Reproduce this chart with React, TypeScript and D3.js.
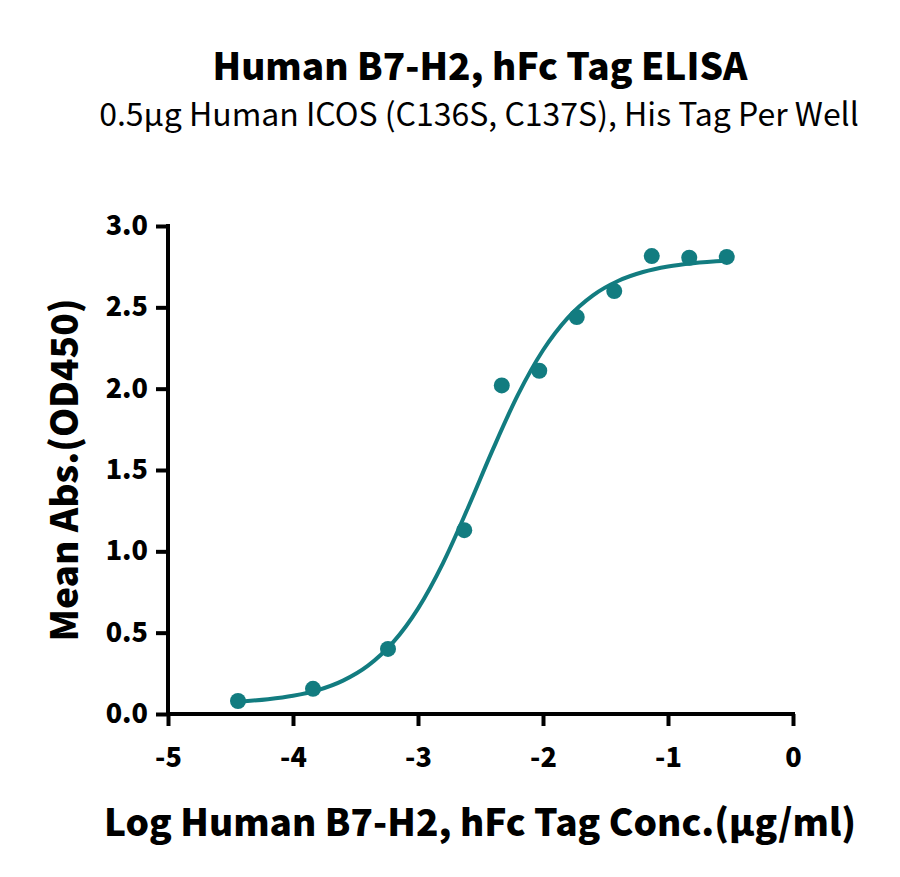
import { useEffect, useRef } from "react";
import * as d3 from "d3";

// measured points (log conc, OD450)
const logConc = [-4.44, -3.84, -3.24, -2.63, -2.33, -2.03, -1.73, -1.43, -1.13, -0.83, -0.53];
const meanAbs = [0.08, 0.155, 0.40, 1.13, 2.02, 2.11, 2.44, 2.60, 2.815, 2.805, 2.81];

// fitted curve
const fitX = [-4.44, -4.2, -4.0, -3.8, -3.6, -3.4, -3.2, -3.0, -2.8, -2.6, -2.4, -2.2, -2.0, -1.8, -1.6, -1.4, -1.2, -1.0, -0.8, -0.53];
const fitY = [0.076, 0.091, 0.112, 0.147, 0.205, 0.297, 0.44, 0.648, 0.928, 1.268, 1.628, 1.963, 2.236, 2.437, 2.574, 2.662, 2.717, 2.751, 2.771, 2.786];

const xTicks = [-5, -4, -3, -2, -1, 0];
const yTicks = [0, 0.5, 1.0, 1.5, 2.0, 2.5, 3.0];

const title = "Human B7-H2, hFc Tag ELISA";
const subtitle = "0.5μg Human ICOS (C136S, C137S), His Tag Per Well";
const xTitle = "Log Human B7-H2, hFc Tag Conc.(μg/ml)";
const yTitle = "Mean Abs.(OD450)";

const W = 900;
const H = 877;
const M = { left: 168, right: 107, top: 226, bottom: 163 };
const color = "#127c80";
const font = "'Noto Sans CJK SC', 'Noto Sans', sans-serif";

const App = () => {
  const ref = useRef<SVGSVGElement>(null);

  useEffect(() => {
    const svg = d3.select(ref.current);
    svg.selectAll("*").remove();

    const x = d3.scaleLinear().domain([-5, 0]).range([M.left, W - M.right]);
    const y = d3.scaleLinear().domain([0, 3]).range([H - M.bottom, M.top]);

    svg
      .append("text")
      .attr("x", 480)
      .attr("y", 80)
      .attr("text-anchor", "middle")
      .attr("font-family", font)
      .attr("font-weight", 900)
      .attr("font-size", 37)
      .text(title);

    svg
      .append("text")
      .attr("x", 479)
      .attr("y", 126)
      .attr("text-anchor", "middle")
      .attr("font-family", font)
      .attr("font-size", 32)
      .text(subtitle);

    const xAxis = svg
      .append("g")
      .attr("transform", `translate(0,${H - M.bottom})`)
      .call(
        d3
          .axisBottom(x)
          .tickValues(xTicks)
          .tickFormat((d) => String(d))
          .tickSize(12)
          .tickPadding(22)
      );
    const yAxis = svg
      .append("g")
      .attr("transform", `translate(${M.left},0)`)
      .call(d3.axisLeft(y).tickValues(yTicks).tickFormat(d3.format(".1f")).tickSize(12).tickPadding(8));

    [xAxis, yAxis].forEach((g) => {
      g.select(".domain").attr("stroke", "#000").attr("stroke-width", 4);
      g.selectAll(".tick line").attr("stroke", "#000").attr("stroke-width", 4);
      g.selectAll(".tick text")
        .attr("fill", "#000")
        .attr("font-family", font)
        .attr("font-weight", 900)
        .attr("font-size", 27);
    });
    xAxis.select(".domain").attr("d", `M${x(-5) - 2},0H${x(0) + 2}`);
    yAxis.select(".domain").attr("d", `M0,${y(0) + 2}V${y(3) - 2}`);

    svg
      .append("text")
      .attr("x", 480)
      .attr("y", 836)
      .attr("text-anchor", "middle")
      .attr("font-family", font)
      .attr("font-weight", 900)
      .attr("font-size", 37)
      .text(xTitle);

    svg
      .append("text")
      .attr("transform", `translate(78,${y(1.5)}) rotate(-90)`)
      .attr("text-anchor", "middle")
      .attr("font-family", font)
      .attr("font-weight", 900)
      .attr("font-size", 37)
      .text(yTitle);

    const line = d3
      .line<number>()
      .x((d) => x(d))
      .y((_, i) => y(fitY[i]))
      .curve(d3.curveMonotoneX);

    svg
      .append("path")
      .datum(fitX)
      .attr("fill", "none")
      .attr("stroke", color)
      .attr("stroke-width", 4)
      .attr("d", line);

    svg
      .selectAll("circle")
      .data(logConc)
      .join("circle")
      .attr("cx", (d) => x(d))
      .attr("cy", (_, i) => y(meanAbs[i]))
      .attr("r", 8)
      .attr("fill", color);
  }, []);

  return <svg ref={ref} width={W} height={H} style={{ display: "block", margin: -8 }} />;
};

export default App;
